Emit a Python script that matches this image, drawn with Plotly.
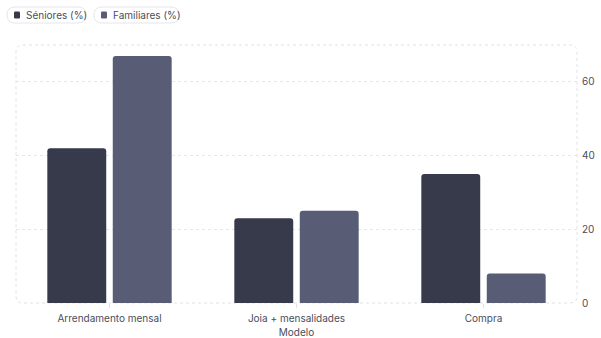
import plotly.graph_objects as go

categories = ["Arrendamento mensal", "Joia + mensalidades", "Compra"]
seniores = [42, 23, 35]
familiares = [67, 25, 8]
series_names = ["Séniores (%)", "Familiares (%)"]
series_colors = ["#363a4a", "#585c74"]
y_ticks = [0, 20, 40, 60]

W, H = 601, 338
ML, MR, MT, MB = 16, 24, 45, 35
PW, PH = W - ML - MR, H - MT - MB


def px_x(p):
    return (p - ML) / PW


def px_y(p):
    return (H - MB - p) / PH


def rounded_rect(x0, y0, x1, y1, r):
    X = px_x
    Y = px_y
    return (
        f"M {X(x0 + r)} {Y(y0)} L {X(x1 - r)} {Y(y0)} "
        f"Q {X(x1)} {Y(y0)} {X(x1)} {Y(y0 + r)} "
        f"L {X(x1)} {Y(y1 - r)} Q {X(x1)} {Y(y1)} {X(x1 - r)} {Y(y1)} "
        f"L {X(x0 + r)} {Y(y1)} Q {X(x0)} {Y(y1)} {X(x0)} {Y(y1 - r)} "
        f"L {X(x0)} {Y(y0 + r)} Q {X(x0)} {Y(y0)} {X(x0 + r)} {Y(y0)} Z"
    )


fig = go.Figure()
for name, vals, col in zip(series_names, [seniores, familiares], series_colors):
    fig.add_trace(go.Bar(x=categories, y=vals, name=name, marker_color=col,
                         marker_line_width=0, showlegend=False))

shapes = []
annotations = []
shapes.append(dict(type="path", xref="paper", yref="paper",
                   path=rounded_rect(ML, MT, W - MR, H - MB, 7),
                   line=dict(color="#e2e2e6", width=1, dash="3px,3px"),
                   layer="below"))

pills = [(7, 86), (94, 179)]
for (x0, x1), name, col in zip(pills, series_names, series_colors):
    shapes.append(dict(type="path", xref="paper", yref="paper",
                       path=rounded_rect(x0, 7, x1, 23, 8),
                       line=dict(color="#e6e6ea", width=1),
                       fillcolor="white"))
    shapes.append(dict(type="path", xref="paper", yref="paper",
                       path=rounded_rect(x0 + 7, 11.5, x0 + 13, 18.5, 1.2),
                       line=dict(width=0), fillcolor=col))
    annotations.append(dict(xref="paper", yref="paper", x=px_x(x0 + 17),
                            y=px_y(15), text=name, showarrow=False,
                            xanchor="left", yanchor="middle",
                            font=dict(size=10, color="#4a4d5c")))

fig.update_layout(
    width=W, height=H,
    margin=dict(l=ML, r=MR, t=MT, b=MB, autoexpand=False),
    paper_bgcolor="white", plot_bgcolor="white",
    font=dict(family="Inter, sans-serif", size=10, color="#555867"),
    barmode="group", bargap=0.3, bargroupgap=0.1,
    barcornerradius=3,
    shapes=shapes, annotations=annotations,
    showlegend=False,
)
fig.update_xaxes(
    showgrid=False, zeroline=False, showline=False,
    ticks="outside", ticklen=4, tickcolor="#e2e2e6",
    ticklabelstandoff=2,
    tickfont=dict(size=10, color="#4a4d5c"),
    title=dict(text="Modelo", font=dict(size=10, color="#4a4d5c"), standoff=6),
    automargin=False,
)
fig.update_yaxes(
    side="right", range=[0, 70], tickvals=y_ticks,
    showgrid=True, gridcolor="#e6e6ea", griddash="3px,3px", gridwidth=1,
    zeroline=False, showline=False, ticks="",
    tickfont=dict(size=10, color="#4a4d5c"), ticklabelstandoff=4,
    automargin=False,
)

fig.write_html("out.html", config={"displayModeBar": False},
               post_script="document.body.style.margin='0';document.body.style.padding='0';")
